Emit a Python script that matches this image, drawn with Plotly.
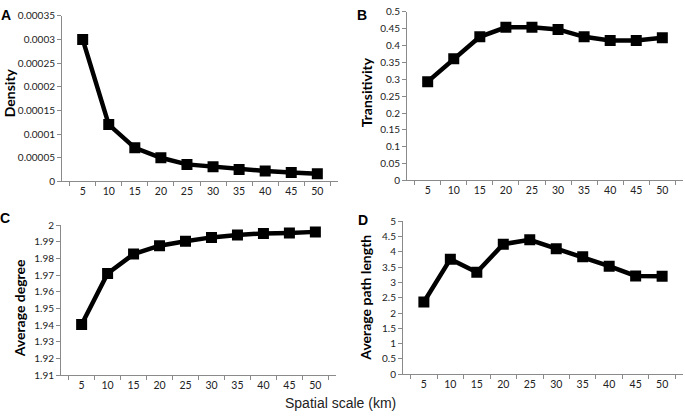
import plotly.graph_objects as go

scales = ["5", "10", "15", "20", "25", "30", "35", "40", "45", "50"]
density = [0.0003, 0.00012, 0.000071, 0.00005, 0.000036, 0.000031, 0.000025, 0.000022, 0.000019, 0.000016]
transitivity = [0.293, 0.361, 0.426, 0.454, 0.454, 0.448, 0.426, 0.415, 0.415, 0.423]
avg_degree = [1.9404, 1.971, 1.9826, 1.9876, 1.9903, 1.9926, 1.994, 1.995, 1.9953, 1.9959]
avg_path = [2.36, 3.76, 3.33, 4.25, 4.39, 4.10, 3.84, 3.53, 3.21, 3.20]

W, H = 685, 420
def px(x): return x / W
def py(y): return 1 - y / H

fig = go.Figure()
series = [density, transitivity, avg_degree, avg_path]
for i, ys in enumerate(series):
    sfx = "" if i == 0 else str(i + 1)
    fig.add_trace(go.Scatter(
        x=scales, y=ys, mode="lines+markers",
        line=dict(color="black", width=4.5),
        marker=dict(symbol="square", size=11, color="black"),
        xaxis="x" + sfx, yaxis="y" + sfx, showlegend=False,
        hoverinfo="skip"))

tickfont = dict(family="Lato, Open Sans, sans-serif", size=10, color="#222")
axcol = "#8a8a8a"

def xax(domain, anchor):
    return dict(domain=domain, anchor=anchor, type="category",
                tickson="boundaries", ticks="outside", ticklen=4, tickcolor=axcol,
                showline=True, linecolor=axcol, linewidth=1, showgrid=False,
                zeroline=False, tickfont=dict(tickfont, size=10.5), fixedrange=True)

def yax(domain, anchor, rng, dtick):
    return dict(domain=domain, anchor=anchor, range=rng, dtick=dtick, tick0=0,
                ticks="outside", ticklen=4, tickcolor=axcol, showline=True,
                linecolor=axcol, linewidth=1, showgrid=False, zeroline=False,
                tickfont=tickfont, fixedrange=True)

fig.update_layout(
    width=W, height=H, margin=dict(l=0, r=0, t=0, b=0),
    paper_bgcolor="white", plot_bgcolor="white",
    xaxis=xax([px(62), px(338)], "y"),
    yaxis=yax([py(180), py(9)], "x", [0, 0.00035], 0.00005),
    xaxis2=xax([px(407), px(683)], "y2"),
    yaxis2=yax([py(179), py(5)], "x2", [0, 0.5], 0.05),
    xaxis3=xax([px(61), px(336)], "y3"),
    yaxis3=yax([py(380), py(225)], "x3", [1.91, 2.0], 0.01),
    xaxis4=xax([px(403), px(683)], "y4"),
    yaxis4=yax([py(379), py(221)], "x4", [0, 5], 0.5),
)
fig.update_layout(yaxis=dict(
    tickvals=[0, 0.00005, 0.0001, 0.00015, 0.0002, 0.00025, 0.0003, 0.00035],
    ticktext=["0", "0.00005", "0.0001", "0.00015", "0.0002", "0.00025", "0.0003", "0.00035"]))

titlefont = dict(family="Lato, Open Sans, sans-serif", size=14, color="black")
letterfont = dict(family="Liberation Sans, Arial, sans-serif", size=14, color="black")
ann = []
for text, x, y in [("<b>Density</b>", 9, 89), ("<b>Transitivity</b>", 366, 88),
                   ("<b>Average degree</b>", 19, 311), ("<b>Average path length</b>", 366, 300)]:
    ann.append(dict(text=text, x=px(x), y=py(y), xref="paper", yref="paper",
                    textangle=-90, showarrow=False, font=titlefont,
                    xanchor="center", yanchor="middle"))
for text, x, y in [("<b>A</b>", 6, 8), ("<b>B</b>", 362, 8), ("<b>C</b>", 5, 218), ("<b>D</b>", 363, 220)]:
    ann.append(dict(text=text, x=px(x), y=py(y), xref="paper", yref="paper",
                    showarrow=False, font=letterfont, xanchor="center", yanchor="middle"))
ann.append(dict(text="Spatial scale (km)", x=px(340), y=py(409), xref="paper", yref="paper",
                showarrow=False, xanchor="center", yanchor="middle",
                font=dict(family="Liberation Sans, Arial, sans-serif", size=14, color="#222")))
fig.update_layout(annotations=ann)

fig.write_html("out.html", config={"displayModeBar": False},
               post_script="document.body.style.margin='0';document.body.style.overflow='hidden';")
